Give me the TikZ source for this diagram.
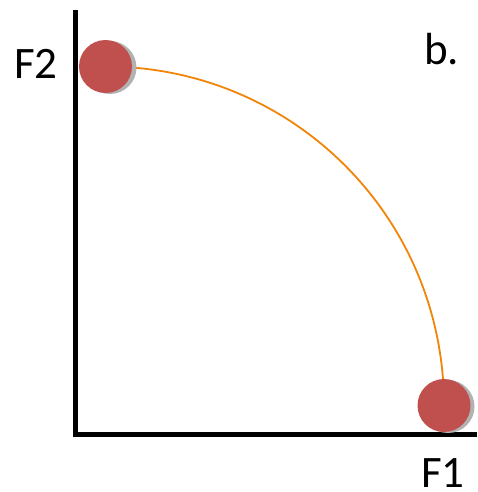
\documentclass[tikz,border=0pt]{standalone}
\usepackage{fontspec}
\setmainfont{Carlito}
\definecolor{dotred}{RGB}{192,80,77}
\definecolor{shadowgrey}{RGB}{178,178,178}
\definecolor{curveorange}{RGB}{242,132,8}
\begin{document}
\begin{tikzpicture}[x=1pt,y=-1pt,
  axisline/.style={line width=5pt,black,line join=miter},
  dotnode/.style={circle,fill=dotred,minimum size=53pt,inner sep=0pt},
  shadownode/.style={circle,fill=shadowgrey,minimum size=53pt,inner sep=0pt},
  curve/.style={curveorange,line width=1.8pt},
  lbl/.style={inner sep=0pt,anchor=base west,font=\fontsize{45}{54}\selectfont}]
\useasboundingbox (0,0) rectangle (477,492);
\coordinate (ytop) at (75.5,10);
\coordinate (orig) at (75.5,434);
\coordinate (xend) at (477,434);
\coordinate (c1) at (105.5,66.5);
\coordinate (c2) at (444,405.5);
\draw[axisline] (ytop) -- (orig) -- (xend);
\draw[curve] (c1) to[out=0,in=90] (c2);
\node[shadownode] (s1) at ([shift={(4.5,1)}]c1) {};
\node[shadownode] (s2) at ([shift={(4,1)}]c2) {};
\node[dotnode] (p1) at (c1) {};
\node[dotnode] (p2) at (c2) {};
\node[lbl] (f2) at (14,78.5) {F2};
\node[lbl] (f1) at (421,487.5) {F1};
\node[lbl] (b) at (424,65) {b.};
\end{tikzpicture}
\end{document}
